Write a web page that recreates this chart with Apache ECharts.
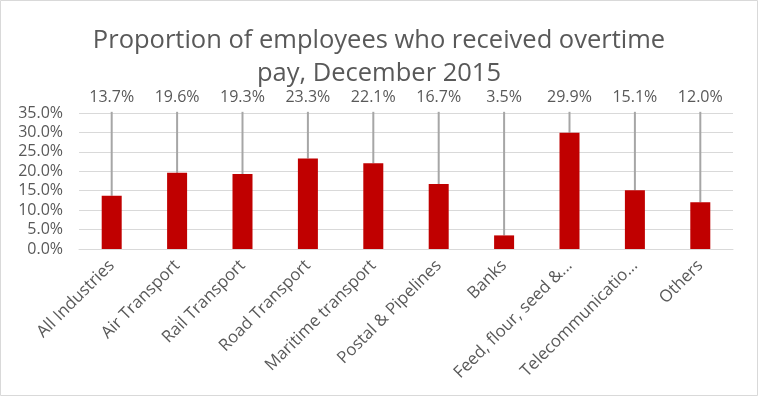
<!DOCTYPE html>
<html>
<head>
<meta charset="utf-8">
<script src="https://cdn.jsdelivr.net/npm/echarts@6/dist/echarts.min.js"></script>
<style>
html,body{margin:0;padding:0;background:#fff;}
#chart{width:758px;height:396px;}
</style>
</head>
<body>
<div id="chart"></div>
<script>
var categories = ["All Industries","Air Transport","Rail Transport","Road Transport","Maritime transport","Postal & Pipelines","Banks","Feed, flour, seed &...","Telecommunicatio...","Others"];
var values = [0.137,0.196,0.193,0.233,0.221,0.167,0.035,0.299,0.151,0.120];
var yTicks = [0,0.05,0.10,0.15,0.20,0.25,0.30,0.35];
var titleText = "Proportion of employees who received overtime\npay, December 2015";

var FONT = "'Open Sans', 'Noto Sans', sans-serif";
var TXT = "#595959";
function pct(v){ return (v*100).toFixed(1) + "%"; }

var chart = echarts.init(document.getElementById('chart'), null, {renderer:'canvas'});
chart.setOption({
  backgroundColor: '#ffffff',
  animation: false,
  title: {
    text: titleText,
    left: 'center',
    top: 19,
    textStyle: {fontFamily: FONT, fontSize: 25.5, fontWeight: 'normal', color: TXT, lineHeight: 33}
  },
  graphic: [{
    type: 'rect', shape: {x: 0.5, y: 0.5, width: 757, height: 395},
    style: {fill: null, stroke: '#d9d9d9', lineWidth: 1}, silent: true, z: -1
  }],
  grid: {left: 79, right: 25, top: 113, bottom: 147, containLabel: false},
  xAxis: {
    type: 'category',
    data: categories,
    axisLine: {show: true, lineStyle: {color: '#d9d9d9'}},
    axisTick: {show: false},
    axisLabel: {interval: 0, rotate: 45, margin: 14, fontFamily: FONT, fontSize: 16.8, color: TXT}
  },
  yAxis: {
    type: 'value',
    min: yTicks[0], max: yTicks[yTicks.length-1], interval: 0.05,
    axisLine: {show: false}, axisTick: {show: false},
    splitLine: {lineStyle: {color: '#d9d9d9', width: 1}},
    axisLabel: {margin: 16, fontFamily: FONT, fontSize: 16, color: TXT, formatter: function(v){ return pct(v); }}
  },
  series: [{
    type: 'bar',
    data: values,
    barWidth: 20,
    itemStyle: {color: '#c00000'},
    z: 3
  }, {
    type: 'custom',
    data: values.map(function(v, i){ return [i, v]; }),
    clip: false,
    z: 2,
    renderItem: function(params, api){
      var i = api.value(0), v = api.value(1);
      var barTop = api.coord([i, v]);
      var lineTop = api.coord([i, 0.353]);
      var lab = api.coord([i, 0.39]);
      return {
        type: 'group',
        children: [{
          type: 'line',
          shape: {x1: barTop[0], y1: barTop[1], x2: lineTop[0], y2: lineTop[1]},
          style: {stroke: '#a6a6a6', lineWidth: 2}
        }, {
          type: 'text',
          style: {
            x: lab[0], y: lab[1], text: pct(v),
            align: 'center', verticalAlign: 'middle',
            font: '16px ' + FONT, fill: TXT
          }
        }]
      };
    }
  }]
});
</script>
</body>
</html>
